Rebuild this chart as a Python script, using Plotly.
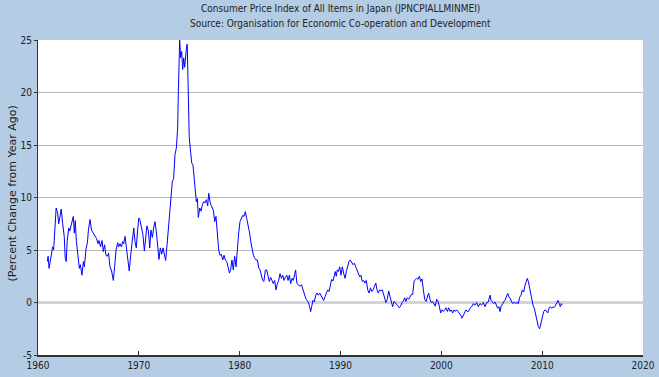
import plotly.graph_objects as go

# Readings (decimal year, percent change from year ago)
years = [
    1960.93, 1961.0, 1961.1, 1961.45, 1961.55, 1961.7, 1961.8, 1961.95, 1962.05, 1962.2,
    1962.3, 1962.45, 1962.6, 1962.7, 1962.8, 1962.9, 1963.05, 1963.15, 1963.3, 1963.5,
    1963.6, 1963.7, 1963.8, 1963.97, 1964.1, 1964.2, 1964.36, 1964.5, 1964.6, 1964.76,
    1964.9, 1965.0, 1965.16, 1965.3, 1965.5, 1965.65, 1965.8, 1965.95, 1966.05, 1966.2,
    1966.35, 1966.48, 1966.6, 1966.74, 1966.87, 1967.0, 1967.14, 1967.3, 1967.47, 1967.6,
    1967.74, 1967.9, 1968.0, 1968.13, 1968.27, 1968.4, 1968.5, 1968.63, 1968.8, 1968.96,
    1969.05, 1969.2, 1969.35, 1969.5, 1969.62, 1969.75, 1969.87, 1970.0, 1970.1, 1970.2,
    1970.4, 1970.55, 1970.68, 1970.8, 1970.95, 1971.08, 1971.2, 1971.34, 1971.47, 1971.6,
    1971.73, 1971.87, 1972.0, 1972.13, 1972.27, 1972.4, 1972.53, 1972.66, 1972.8, 1972.92,
    1973.05, 1973.19, 1973.32, 1973.45, 1973.59, 1973.72, 1973.85, 1973.92, 1973.98, 1974.05,
    1974.15, 1974.25, 1974.35, 1974.45, 1974.55, 1974.65, 1974.74, 1974.8, 1974.87, 1974.94,
    1975.0, 1975.14, 1975.24, 1975.37, 1975.5, 1975.6, 1975.7, 1975.8, 1975.9, 1976.04,
    1976.17, 1976.3, 1976.43, 1976.57, 1976.7, 1976.83, 1976.93, 1977.06, 1977.15, 1977.39,
    1977.52, 1977.65, 1977.78, 1977.92, 1978.05, 1978.18, 1978.32, 1978.45, 1978.58, 1978.71,
    1978.85, 1978.98, 1979.1, 1979.24, 1979.37, 1979.5, 1979.64, 1979.77, 1979.9, 1980.03,
    1980.17, 1980.3, 1980.43, 1980.56, 1980.7, 1980.83, 1980.97, 1981.1, 1981.23, 1981.36,
    1981.5, 1981.62, 1981.76, 1981.89, 1982.02, 1982.15, 1982.28, 1982.4, 1982.55, 1982.68,
    1982.81, 1982.94, 1983.07, 1983.2, 1983.34, 1983.47, 1983.6, 1983.74, 1983.87, 1984.0,
    1984.14, 1984.27, 1984.4, 1984.53, 1984.67, 1984.8, 1984.93, 1985.06, 1985.19, 1985.32,
    1985.45, 1985.55, 1985.68, 1985.82, 1985.98, 1986.13, 1986.28, 1986.41, 1986.55, 1986.68,
    1986.8, 1986.94, 1987.04, 1987.14, 1987.27, 1987.4, 1987.54, 1987.67, 1987.8, 1987.93,
    1988.06, 1988.2, 1988.33, 1988.46, 1988.6, 1988.73, 1988.86, 1989.0, 1989.12, 1989.25,
    1989.38, 1989.48, 1989.58, 1989.68, 1989.78, 1989.92, 1990.05, 1990.18, 1990.31, 1990.45,
    1990.58, 1990.71, 1990.84, 1990.97, 1991.1, 1991.24, 1991.37, 1991.5, 1991.63, 1991.77,
    1991.9, 1992.03, 1992.16, 1992.3, 1992.43, 1992.56, 1992.7, 1992.83, 1992.97, 1993.1,
    1993.23, 1993.36, 1993.5, 1993.62, 1993.75, 1993.88, 1994.0, 1994.15, 1994.25, 1994.38,
    1994.5, 1994.64, 1994.78, 1994.9, 1995.04, 1995.17, 1995.3, 1995.43, 1995.57, 1995.7,
    1995.83, 1995.96, 1996.1, 1996.23, 1996.36, 1996.5, 1996.62, 1996.76, 1996.9, 1997.02,
    1997.15, 1997.3, 1997.42, 1997.55, 1997.68, 1997.82, 1997.95, 1998.08, 1998.22, 1998.35,
    1998.48, 1998.6, 1998.74, 1998.88, 1999.0, 1999.14, 1999.27, 1999.4, 1999.54, 1999.67,
    1999.8, 1999.93, 2000.06, 2000.2, 2000.33, 2000.46, 2000.6, 2000.73, 2000.86, 2000.99,
    2001.12, 2001.26, 2001.39, 2001.52, 2001.65, 2001.78, 2001.92, 2002.05, 2002.18, 2002.3,
    2002.44, 2002.57, 2002.68, 2002.84, 2003.01, 2003.17, 2003.34, 2003.5, 2003.67, 2003.83,
    2004.0, 2004.17, 2004.33, 2004.5, 2004.66, 2004.83, 2004.93, 2005.06, 2005.19, 2005.32,
    2005.45, 2005.59, 2005.72, 2005.82, 2005.92, 2006.05, 2006.18, 2006.31, 2006.45, 2006.58,
    2006.71, 2006.84, 2006.97, 2007.1, 2007.23, 2007.37, 2007.5, 2007.63, 2007.77, 2007.9,
    2008.03, 2008.17, 2008.3, 2008.43, 2008.53, 2008.63, 2008.73, 2008.83, 2008.96, 2009.09,
    2009.22, 2009.35, 2009.49, 2009.62, 2009.75, 2009.88, 2010.02, 2010.15, 2010.28, 2010.41,
    2010.55, 2010.68, 2010.81, 2010.94, 2011.07, 2011.2, 2011.34, 2011.47, 2011.57, 2011.7,
    2011.8, 2011.9, 2011.99,
]
cpi_yoy = [
    3.9, 4.4, 3.25, 5.3, 5.0, 7.5, 9.0, 8.5, 7.5, 8.3,
    8.9, 7.5, 6.3, 4.2, 3.9, 5.9, 7.1, 6.8, 7.4, 8.2,
    6.6, 7.8, 5.9, 4.4, 3.25, 3.6, 2.6, 3.9, 3.4, 5.1,
    5.7, 6.9, 7.9, 6.9, 6.6, 6.3, 6.1, 5.6, 5.9, 5.3,
    5.9, 4.84, 5.5, 4.5, 4.4, 4.7, 3.4, 3.0, 2.1, 3.4,
    5.0, 5.7, 5.3, 5.6, 5.3, 5.8, 5.6, 6.3, 4.9, 3.6,
    3.0, 4.6, 6.1, 7.1, 5.8, 5.2, 6.8, 8.05, 7.9, 7.4,
    6.5, 4.9, 6.5, 7.3, 6.8, 5.2, 6.9, 6.2, 7.1, 7.7,
    6.8, 5.2, 4.1, 5.2, 4.6, 5.2, 4.6, 4.0, 5.5, 6.8,
    8.4, 10.0, 11.5, 11.8, 14.1, 14.7, 16.6, 20.1, 23.6, 25.0,
    23.3, 23.9, 22.2, 23.3, 22.4, 24.1, 24.4, 24.6, 21.5, 18.2,
    15.7, 14.3, 13.3, 13.1, 11.8, 10.4, 9.6, 9.9, 8.1, 9.0,
    8.7, 9.3, 9.6, 9.5, 9.8, 9.2, 10.4, 9.6, 9.3, 8.8,
    7.7, 8.2, 6.9, 5.0, 4.5, 4.6, 4.05, 4.5, 4.05, 3.9,
    3.4, 2.8, 3.1, 4.05, 3.1, 4.4, 3.4, 5.3, 6.6, 7.7,
    8.0, 8.3, 8.2, 8.65, 8.0, 7.5, 6.7, 5.8, 5.0, 4.5,
    4.2, 4.05, 4.05, 3.3, 3.1, 2.6, 2.1, 2.0, 3.1, 3.1,
    2.4, 2.0, 2.4, 2.0, 1.8, 2.1, 1.2, 1.8, 2.1, 2.75,
    2.3, 2.6, 2.1, 2.4, 2.6, 2.1, 2.6, 1.8, 2.3, 2.1,
    2.6, 3.1, 1.8, 1.7, 1.55, 1.7, 1.2, 0.9, 0.4, 0.2,
    0.05, -0.4, -0.87, -0.4, 0.2, 0.05, 0.7, 0.9, 0.7, 0.9,
    0.7, 0.4, 0.2, 0.55, 0.9, 1.2, 1.04, 1.55, 2.2, 2.05,
    2.8, 2.95, 2.5, 3.1, 2.95, 3.4, 2.6, 3.4, 2.8, 2.3,
    2.95, 3.4, 3.9, 4.05, 3.75, 3.6, 3.75, 3.4, 3.1, 2.8,
    2.45, 2.6, 2.0, 2.1, 1.85, 2.1, 1.2, 0.9, 1.4, 1.04,
    1.2, 1.5, 1.85, 1.2, 0.9, 1.2, 1.1, 1.2, 0.9, 0.45,
    0.0, 0.3, 1.1, 0.6, 0.1, -0.4, 0.1, 0.0, -0.2, -0.35,
    -0.5, -0.35, 0.0, 0.1, 0.45, 0.1, 0.45, 0.3, 0.6, 0.75,
    0.75, 2.0, 2.2, 2.3, 2.2, 2.5, 2.0, 2.25, 1.2, 0.3,
    0.1, 0.6, 0.9, 0.3, 0.0, 0.1, -0.2, -0.35, 0.3, 0.1,
    -0.35, -1.0, -0.7, -0.85, -0.7, -0.5, -0.85, -0.5, -0.85, -0.7,
    -1.0, -0.7, -0.85, -0.7, -0.85, -1.0, -1.2, -1.5, -1.2, -1.0,
    -0.7, -0.85, -0.87, -0.55, -0.4, -0.1, -0.25, 0.0, -0.4, -0.1,
    -0.25, 0.0, -0.4, 0.0, 0.05, 0.7, 0.2, 0.05, -0.1, 0.05,
    -0.25, -0.55, -0.4, -0.87, -0.4, -0.1, 0.05, 0.2, 0.5, 0.87,
    0.5, 0.4, 0.05, -0.1, 0.05, -0.1, 0.0, -0.1, 0.5, 0.7,
    1.2, 1.0, 1.65, 2.1, 2.3, 2.0, 1.5, 0.87, 0.2, -0.25,
    -0.55, -1.2, -1.85, -2.3, -2.5, -2.0, -1.4, -0.87, -0.7, -0.8,
    -1.0, -0.55, -0.4, -0.55, -0.45, -0.45, -0.25, 0.05, 0.2, -0.1,
    -0.4, -0.1, -0.25,
]

x_ticks = [1960, 1970, 1980, 1990, 2000, 2010, 2020]
y_ticks = [-5, 0, 5, 10, 15, 20, 25]

title_lines = [
    "Consumer Price Index of All Items in Japan (JPNCPIALLMINMEI)",
    "Source: Organisation for Economic Co-operation and Development",
]
y_title = "(Percent Change from Year Ago)"

BG = "#B4CCE4"
FONT = "DejaVu Sans Condensed, DejaVu Sans, Liberation Sans, sans-serif"
FONT_WIDE = "DejaVu Sans, Liberation Sans, sans-serif"
TXT = "#222222"

fig = go.Figure()
fig.add_trace(go.Scatter(
    x=years, y=cpi_yoy, mode="lines",
    line=dict(color="#0000FF", width=1),
    showlegend=False,
))

fig.update_layout(
    width=659, height=377,
    paper_bgcolor=BG, plot_bgcolor="white",
    margin=dict(l=38, r=16, t=40, b=22, autoexpand=False),
    font=dict(family=FONT, size=10, color=TXT),
    showlegend=False,
)

for i, line in enumerate(title_lines):
    fig.add_annotation(
        text=line, xref="paper", yref="paper", x=0.5, y=1,
        yshift=17 + 15 * (1 - i), xanchor="center", yanchor="middle",
        showarrow=False, font=dict(family=FONT, size=10, color=TXT),
    )

fig.add_annotation(
    text=y_title, xref="paper", yref="paper", x=0, y=0.5,
    xshift=-26, yshift=4, textangle=-90, xanchor="center", yanchor="middle",
    showarrow=False, font=dict(family=FONT_WIDE, size=11, color=TXT),
)

fig.update_xaxes(
    range=[1960, 2020], tickvals=x_ticks, ticktext=[str(t) for t in x_ticks],
    showgrid=False, zeroline=False, automargin=False,
    showline=True, linecolor="#333333", linewidth=2,
    ticks="inside", ticklen=4, tickcolor="#333333", tickwidth=1,
    tickfont=dict(family=FONT, size=10, color=TXT),
)
fig.update_yaxes(
    range=[-5, 25], tickvals=y_ticks, ticktext=[str(t) for t in y_ticks],
    showgrid=True, gridcolor="#B8B8B8", gridwidth=1,
    zeroline=True, zerolinecolor="#D4D4D4", zerolinewidth=3,
    showline=True, linecolor="#333333", linewidth=1, automargin=False,
    ticks="outside", ticklen=3, tickcolor="#333333",
    tickfont=dict(family=FONT, size=10, color=TXT),
)

fig.write_html(
    "out.html",
    config={"displayModeBar": False},
    post_script="document.body.style.margin='0';document.body.style.padding='0';"
                "document.body.style.overflow='hidden';",
)
